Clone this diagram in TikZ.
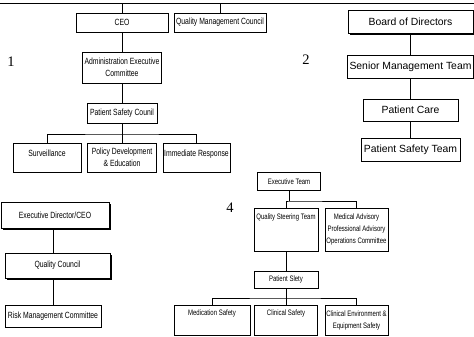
\documentclass[tikz,border=0pt]{standalone}
\usepackage{fontspec}
\setmainfont{Liberation Sans}
\newfontfamily\narrowfont{Liberation Sans}[FakeStretch=0.76]
\newfontfamily\numfont{Liberation Serif}
\usetikzlibrary{shadows}

\begin{document}
\begin{tikzpicture}[x=1pt, y=-1pt,
    box/.style={draw, fill=white, line width=0.7pt, inner sep=1pt, align=center},
    one/.style={box, font=\narrowfont\fontsize{9}{12}\selectfont},
    two/.style={box, line width=0.8pt, font=\fontsize{10.4}{12.5}\selectfont},
    three/.style={box, font=\narrowfont\fontsize{9}{12}\selectfont},
    four/.style={box, font=\narrowfont\fontsize{7.9}{12}\selectfont},
    shade/.style={drop shadow={shadow xshift=1.8pt, shadow yshift=-1.8pt, opacity=1, fill=black}},
    num/.style={font=\numfont\fontsize{14.5}{16}\selectfont}]

\useasboundingbox (0,0) rectangle (474,337);

% Top rule
\coordinate (topL) at (0,3);
\coordinate (topR) at (474,3);
\draw[line width=0.7pt] (topL) -- (topR);

% First chart
\begin{scope}
    % Boxes
    \node[one, minimum width=92pt, minimum height=19pt] (ceo)    at (122,22.5)  {CEO};
    \node[one, minimum width=92pt, minimum height=19pt] (qmc)    at (220,22.5)  {Quality Management Council};
    \node[one, minimum width=79pt, minimum height=31pt] (aec)    at (122,67.5)  {Administration Executive\\Committee};
    \node[one, minimum width=70pt, minimum height=20pt] (psc)    at (122,113)   {Patient Safety Counil};
    \node[one, minimum width=68pt, minimum height=29pt, text height=6pt, text depth=9pt] (surv)   at (47,157.5)  {Surveillance};
    \node[one, minimum width=69pt, minimum height=29pt] (policy) at (122,157.5) {Policy Development\\\& Education};
    \node[one, minimum width=67pt, minimum height=29pt, text height=6pt, text depth=9pt] (resp)   at (196.5,157.5) {Immediate Response};
    % Lines
    \coordinate (busA) at (122,134);
    \draw[line width=0.7pt] (ceo.north) -- (ceo.north |- topL);
    \draw[line width=0.7pt] (qmc.north) -- (qmc.north |- topL);
    \draw[line width=0.7pt] (ceo.south) -- (aec.north);
    \draw[line width=0.7pt] (aec.south) -- (psc.north);
    \draw[line width=0.7pt] (psc.south) -- (policy.north);
    \draw[line width=0.7pt] (surv.north) |- (busA) -| (resp.north);
    % Number
    \node[num] (n1) at (11,62) {1};
\end{scope}

% Second chart
\begin{scope}
    % Boxes
    \node[two, shade, minimum width=125pt, minimum height=23pt] (board) at (410.5,21.5) {Board of Directors};
    \node[two, minimum width=126pt, minimum height=23pt] (smt)   at (410.5,66.5) {Senior Management Team};
    \node[two, minimum width=95pt,  minimum height=22pt] (care)  at (410.5,110)  {Patient Care};
    \node[two, minimum width=99pt,  minimum height=23pt] (pst)   at (410.5,149.5) {Patient Safety Team};
    % Lines
    \draw[line width=0.8pt] (board.south) -- (smt.north);
    \draw[line width=0.8pt] (smt.south) -- (care.north);
    \draw[line width=0.8pt] (care.south) -- (pst.north);
    % Number
    \node[num] (n2) at (306,60) {2};
\end{scope}

% Third chart
\begin{scope}
    % Boxes
    \node[three, shade, minimum width=108pt, minimum height=26pt] (exec) at (55,215)    {Executive Director/CEO};
    \node[three, shade, minimum width=105pt, minimum height=25pt] (qc)   at (57.5,265.5) {Quality Council};
    \node[three, minimum width=96pt,  minimum height=22pt] (risk)        at (53,316)    {Risk Management Committee};
    % Lines
    \draw[line width=0.7pt] (exec.south -| risk.north) -- (qc.north -| risk.north);
    \draw[line width=0.7pt] (qc.south -| risk.north) -- (risk.north);
\end{scope}

% Fourth chart
\begin{scope}
    % Boxes
    \node[four, minimum width=63pt, minimum height=18pt] (et)  at (289,181.5) {Executive Team};
    \node[four, minimum width=64pt, minimum height=43pt, text height=6pt, text depth=26pt] (qst) at (286,229.5) {Quality Steering Team};
    \node[four, minimum width=63pt, minimum height=43pt] (med) at (356.5,229.5) {Medical Advisory\\Professional Advisory\\Operations Committee};
    \node[four, minimum width=64pt, minimum height=17pt] (ps)  at (286,279.5) {Patient Slety};
    \node[four, minimum width=76pt, minimum height=30pt, text height=6pt, text depth=15pt] (meds) at (212,320) {Medication Safety};
    \node[four, minimum width=63pt, minimum height=30pt, text height=6pt, text depth=15pt] (clin) at (286,320) {Clinical Safety};
    \node[four, minimum width=63pt, minimum height=30pt] (env) at (356.5,320) {Clinical Environment \&\\Equipment Safety};
    % Lines
    \coordinate (busB) at (289,201);
    \coordinate (busC) at (286,298);
    \draw[line width=0.7pt] (et.south) -- (busB);
    \draw[line width=0.7pt] (qst.north) |- (busB) -| (med.north);
    \draw[line width=0.7pt] (qst.south) -- (ps.north);
    \draw[line width=0.7pt] (ps.south) -- (clin.north);
    \draw[line width=0.7pt] (meds.north) |- (busC) -| (env.north);
    % Number
    \node[num] (n4) at (230,208) {4};
\end{scope}

\end{tikzpicture}
\end{document}
